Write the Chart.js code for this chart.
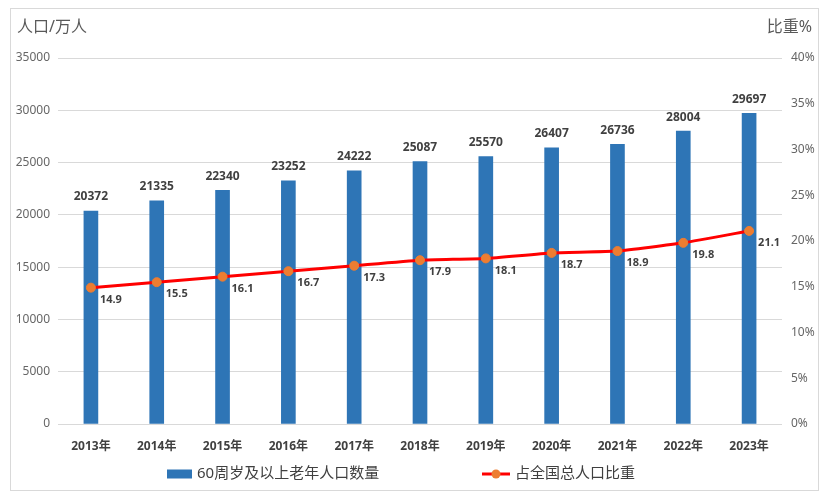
<!DOCTYPE html>
<html>
<head>
<meta charset="utf-8">
<script src="https://cdn.jsdelivr.net/npm/chart.js@4.4.1/dist/chart.umd.min.js"></script>
<style>
  html, body { margin: 0; padding: 0; background: #fff; }
  #wrap { width: 831px; height: 499px; }
</style>
</head>
<body>
<div id="wrap"><canvas id="agingChart" width="831" height="499"></canvas></div>
<script>
// data
var years = ['2013年', '2014年', '2015年', '2016年', '2017年', '2018年', '2019年', '2020年', '2021年', '2022年', '2023年'];
var elderlyPop = [20372, 21335, 22340, 23252, 24222, 25087, 25570, 26407, 26736, 28004, 29697];
var elderlyShare = [14.9, 15.5, 16.1, 16.7, 17.3, 17.9, 18.1, 18.7, 18.9, 19.8, 21.1];
var popLabel = '60周岁及以上老年人口数量';
var shareLabel = '占全国总人口比重';

var FONT = "'Noto Sans', 'Noto Sans CJK SC', sans-serif";
var BLUE = '#2e75b6';
var RED = '#ff0000';
var ORANGE = '#ed7d31';

// frame, axis titles, value labels and legend
var decorPlugin = {
    id: 'decor',
    beforeDraw: function(chart) {
        var ctx = chart.ctx;
        ctx.save();
        ctx.strokeStyle = '#d9d9d9';
        ctx.lineWidth = 1;
        ctx.strokeRect(10.5, 8.5, 808, 482);
        ctx.restore();
    },
    afterDatasetsDraw: function(chart) {
        var ctx = chart.ctx;
        var bars = chart.data.datasets[0], line = chart.data.datasets[1];
        ctx.save();

        // bar values
        ctx.fillStyle = '#404040';
        ctx.font = 'bold 12px ' + FONT;
        ctx.textAlign = 'center';
        ctx.textBaseline = 'middle';
        chart.getDatasetMeta(0).data.forEach(function(el, i) {
            ctx.fillText(String(bars.data[i]), el.x, el.y - 14);
        });

        // line values
        ctx.font = 'bold 11px ' + FONT;
        ctx.textAlign = 'left';
        chart.getDatasetMeta(1).data.forEach(function(el, i) {
            ctx.fillText(line.data[i].toFixed(1), el.x + 9, el.y + 12);
        });

        // axis titles
        ctx.fillStyle = '#595959';
        ctx.font = '16px ' + FONT;
        ctx.textAlign = 'left';
        ctx.fillText('人口/万人', 17, 27);
        ctx.textAlign = 'right';
        ctx.fillText('比重%', 812, 27);

        // legend
        var ly = 474;
        ctx.fillStyle = bars.backgroundColor;
        ctx.fillRect(167, ly - 4.5, 25, 9);
        ctx.fillStyle = '#404040';
        ctx.font = '15px ' + FONT;
        ctx.textAlign = 'left';
        ctx.fillText(bars.label, 197, ly);

        ctx.strokeStyle = line.borderColor;
        ctx.lineWidth = 3;
        ctx.beginPath();
        ctx.moveTo(482, ly);
        ctx.lineTo(510, ly);
        ctx.stroke();
        ctx.fillStyle = line.pointBackgroundColor;
        ctx.beginPath();
        ctx.arc(496, ly, 4.5, 0, Math.PI * 2);
        ctx.fill();
        ctx.fillStyle = '#404040';
        ctx.fillText(line.label, 515, ly);

        ctx.restore();
    }
};

var ctx = document.getElementById('agingChart').getContext('2d');
var chart = new Chart(ctx, {
    data: {
        labels: years,
        datasets: [
            {
                type: 'bar',
                label: popLabel,
                data: elderlyPop,
                yAxisID: 'y',
                backgroundColor: BLUE,
                barThickness: 14,
                order: 1
            },
            {
                type: 'line',
                label: shareLabel,
                data: elderlyShare,
                yAxisID: 'y1',
                borderColor: RED,
                borderWidth: 3,
                pointRadius: 4.5,
                pointBackgroundColor: ORANGE,
                pointBorderColor: ORANGE,
                pointBorderWidth: 1,
                tension: 0.15,
                fill: false,
                order: 0
            }
        ]
    },
    options: {
        responsive: false,
        animation: false,
        layout: { padding: { left: 0, right: 0, top: 58, bottom: 45 } },
        plugins: {
            legend: { display: false },
            tooltip: { enabled: false }
        },
        scales: {
            x: {
                grid: { display: false },
                border: { display: false },
                ticks: {
                    color: '#404040',
                    font: { family: FONT, size: 12, weight: 'bold' },
                    padding: 7,
                    maxRotation: 0
                },
                afterFit: function(scale) { scale.height = 30; }
            },
            y: {
                position: 'left',
                min: 0,
                max: 35000,
                grid: { color: '#d9d9d9', lineWidth: 1, drawTicks: false },
                border: { display: false },
                ticks: {
                    stepSize: 5000,
                    color: '#666666',
                    font: { family: FONT, size: 12 },
                    padding: 8,
                    callback: function(v) { return String(v); }
                },
                afterFit: function(scale) { scale.width = 58; }
            },
            y1: {
                position: 'right',
                min: 0,
                max: 40,
                grid: { drawOnChartArea: false, drawTicks: false },
                border: { display: false },
                ticks: {
                    stepSize: 5,
                    color: '#666666',
                    font: { family: FONT, size: 12 },
                    padding: 9,
                    callback: function(v) { return v + '%'; }
                },
                afterFit: function(scale) { scale.width = 49; }
            }
        }
    },
    plugins: [decorPlugin]
});
</script>
</body>
</html>
